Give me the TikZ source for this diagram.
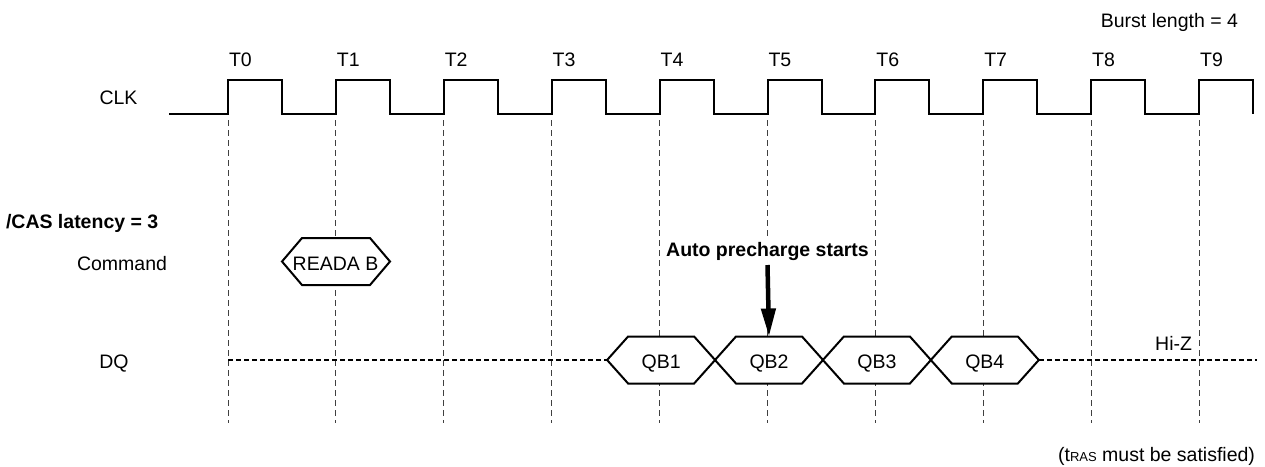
\documentclass[tikz,border=0pt]{standalone}
\usepackage{fontspec}
\setmainfont{Liberation Sans}
\usetikzlibrary{arrows.meta}
\begin{document}
\begin{tikzpicture}[x=1pt,y=-1pt,
  lbl/.style={font=\fontsize{19.5}{22}\selectfont, inner sep=0pt, outer sep=0pt},
  blbl/.style={font=\fontsize{19.5}{22}\selectfont\bfseries, inner sep=0pt, outer sep=0pt},
  sig/.style={line width=2pt, line join=miter, line cap=butt},
  gridline/.style={black!75, line width=1pt, dash pattern=on 6pt off 4pt},
  hiz/.style={line width=1.8pt, dash pattern=on 5pt off 3pt},
  hexbox/.style={line width=2pt, fill=white, line join=miter},
  bigarrow/.style={line width=4.5pt, -{Triangle[length=28pt,width=14pt]}}]
\useasboundingbox (0,0) rectangle (1265,466);
\def\per{107.9}
% grid lines
\foreach \i in {0,...,9}{
  \coordinate (ga\i) at ({228+\per*\i},120);
  \coordinate (gb\i) at ({228+\per*\i},423);
  \draw[gridline] (ga\i) -- (gb\i);
}
% clock
\draw[sig] (169,114) foreach \i in {0,...,9} { -- ({228+\per*\i},114) -- ++(0,-34) -- ++(54,0) -- ++(0,34) };
% T labels
\foreach \i in {0,...,9}{
  \node[lbl, anchor=base west] (t\i) at ({229+\per*\i},66) {T\i};
}
\node[lbl, anchor=base east] (burst) at (1238,27) {Burst length = 4};
% row labels
\node[lbl, anchor=base] (clk) at (118.5,104) {CLK};
\node[blbl, anchor=base west] (cas) at (6,228) {/CAS latency = 3};
\node[lbl, anchor=base] (cmd) at (122,270) {Command};
\node[lbl, anchor=base] (dq) at (114,368) {DQ};
% command hexagon
\draw[hexbox] (282,261.5) -- (302,238) -- (370,238) -- (390,261.5) -- (370,285) -- (302,285) -- cycle;
\node[lbl, anchor=base] (reada) at (335.5,270) {READA B};
% DQ hexagons
\foreach \k/\n in {1/4,2/5,3/6,4/7}{
  \pgfmathsetmacro{\c}{228+\per*\n+1.5}
  \draw[hexbox] ({\c-54},360) -- ({\c-33},336.5) -- ({\c+33},336.5) -- ({\c+54},360) -- ({\c+33},383.5) -- ({\c-33},383.5) -- cycle;
  \node[lbl, anchor=base] (qb\k) at (\c,368) {QB\k};
  \coordinate (qbtop\k) at (\c,336.5);
  \coordinate (qbl\k) at ({\c-54},360);
  \coordinate (qbr\k) at ({\c+54},360);
}
\coordinate (dqstart) at (228,360);
\coordinate (dqend) at (1257,360);
\draw[hiz] (dqstart) -- (qbl1);
\draw[hiz] (qbr4) -- (dqend);
\node[lbl, anchor=base east] (hiz) at (1192,350) {Hi-Z};
% auto precharge
\node[blbl, anchor=base, fill=white, inner xsep=1pt, inner ysep=5pt] (auto) at (767.5,256) {Auto precharge starts};
\coordinate (arrstart) at (767.5,265);
\draw[bigarrow] (arrstart) -- (qbtop2);
% note
\node[lbl, anchor=base east] (tras) at (1255,461) {(t{\fontsize{13}{15}\selectfont RAS} must be satisfied)};
\end{tikzpicture}
\end{document}
